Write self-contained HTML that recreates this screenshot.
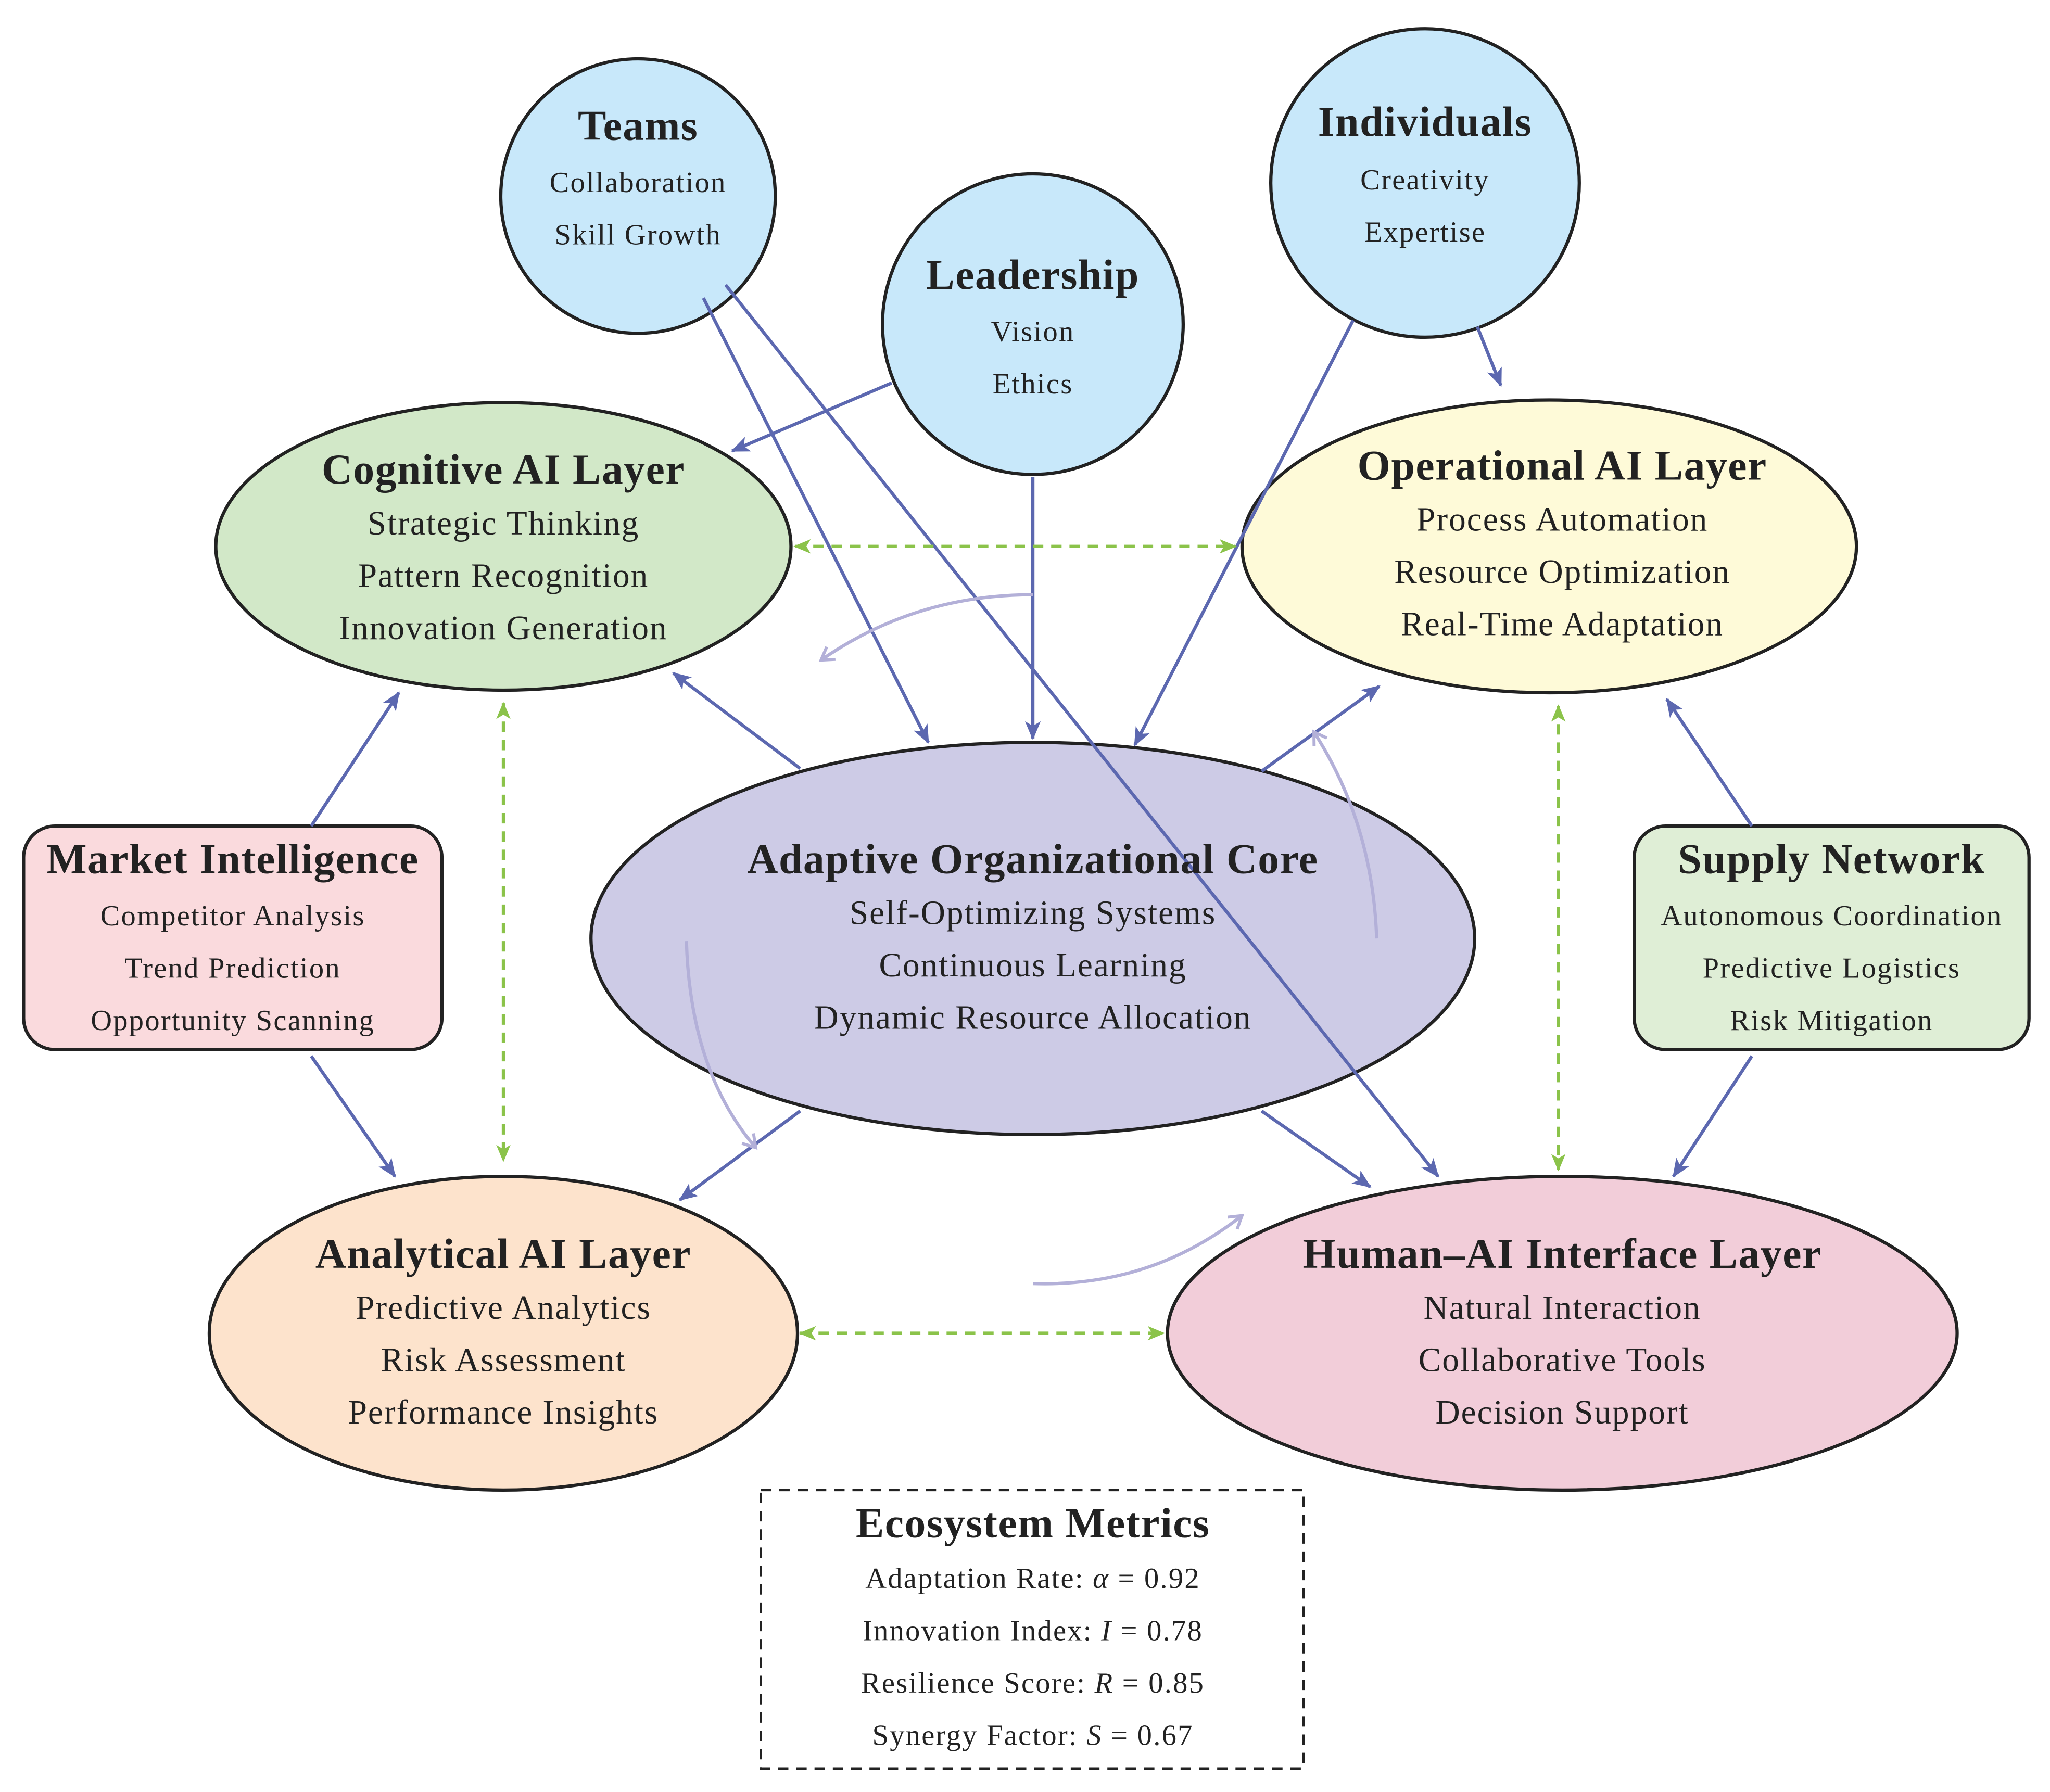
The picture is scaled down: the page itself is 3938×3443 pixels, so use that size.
<!DOCTYPE html>
<html><head><meta charset="utf-8"><style>
html,body{margin:0;padding:0;background:#fff;}
svg{display:block;}
text{font-family:"Liberation Serif",serif;fill:#222;text-anchor:middle;}
.t{font-weight:bold;font-size:32.5px;letter-spacing:0.6px;}
.b{font-size:26px;letter-spacing:0.8px;}
.s{font-size:22.5px;letter-spacing:0.9px;}
</style></head><body>
<svg width="3938" height="3443" viewBox="0 0 1568 1371" xmlns="http://www.w3.org/2000/svg">
<defs>
<marker id="a" viewBox="0 0 12 10" refX="11" refY="5" markerWidth="15" markerHeight="12" markerUnits="userSpaceOnUse" orient="auto-start-reverse">
<path d="M0,0 L12,5 L0,10 L3,5 z" fill="#5c68b0"/></marker>
<marker id="g" viewBox="0 0 12 10" refX="11" refY="5" markerWidth="14" markerHeight="11" markerUnits="userSpaceOnUse" orient="auto-start-reverse">
<path d="M0,0 L12,5 L0,10 L3,5 z" fill="#8bc34a"/></marker>
<marker id="l" viewBox="0 0 12 12" refX="10" refY="6" markerWidth="14" markerHeight="14" markerUnits="userSpaceOnUse" orient="auto">
<path d="M2,1 L10,6 L2,11" fill="none" stroke="#b3b0d8" stroke-width="2"/></marker>
</defs>

<ellipse cx="790" cy="718" rx="338" ry="150" fill="#cdcbe6" stroke="#222" stroke-width="2.5"/>
<ellipse cx="385" cy="418" rx="220" ry="110" fill="#d2e8c8" stroke="#222" stroke-width="2.5"/>
<ellipse cx="1185" cy="418" rx="235" ry="112" fill="#fefad8" stroke="#222" stroke-width="2.5"/>
<ellipse cx="385" cy="1020" rx="225" ry="120" fill="#fde3cc" stroke="#222" stroke-width="2.5"/>
<ellipse cx="1195" cy="1020" rx="302" ry="120" fill="#f2cdd9" stroke="#222" stroke-width="2.5"/>
<circle cx="488" cy="150" r="105" fill="#c8e8fa" stroke="#222" stroke-width="2.5"/>
<circle cx="1090" cy="140" r="118" fill="#c8e8fa" stroke="#222" stroke-width="2.5"/>
<circle cx="790" cy="248" r="115" fill="#c8e8fa" stroke="#222" stroke-width="2.5"/>
<rect x="18" y="632" width="320" height="171" rx="24" fill="#fadadd" stroke="#222" stroke-width="2.5"/>
<rect x="1250" y="632" width="302" height="171" rx="24" fill="#dfeed6" stroke="#222" stroke-width="2.5"/>
<rect x="582" y="1140" width="415" height="213" fill="#fff" stroke="#222" stroke-width="1.8" stroke-dasharray="8,6"/>

<g stroke="#5c68b0" stroke-width="2.5" fill="none" marker-end="url(#a)">
<line x1="682" y1="293" x2="560" y2="345"/>
<line x1="790" y1="365" x2="790" y2="565"/>
<line x1="538" y1="228" x2="710" y2="568"/>
<line x1="555" y1="218" x2="1100" y2="900"/>
<line x1="1035" y1="245" x2="868" y2="570"/>
<line x1="1130" y1="250" x2="1148" y2="295"/>
<line x1="612" y1="588" x2="515" y2="515"/>
<line x1="965" y1="590" x2="1055" y2="525"/>
<line x1="612" y1="850" x2="520" y2="918"/>
<line x1="965" y1="850" x2="1048" y2="908"/>
<line x1="238" y1="632" x2="305" y2="530"/>
<line x1="238" y1="808" x2="302" y2="900"/>
<line x1="1340" y1="632" x2="1275" y2="535"/>
<line x1="1340" y1="808" x2="1280" y2="900"/>
</g>
<g stroke="#8bc34a" stroke-width="2.5" fill="none" stroke-dasharray="8,6" marker-start="url(#g)" marker-end="url(#g)">
<line x1="608" y1="418" x2="945" y2="418"/>
<line x1="385" y1="538" x2="385" y2="888"/>
<line x1="1192" y1="540" x2="1192" y2="895"/>
<line x1="612" y1="1020" x2="890" y2="1020"/>
</g>
<g stroke="#b3b0d8" stroke-width="2.5" fill="none" marker-end="url(#l)">
<path d="M790,455 Q700,455 628,505"/>
<path d="M1053,718 Q1050,630 1005,560"/>
<path d="M525,720 Q528,820 578,878"/>
<path d="M790,982 Q880,985 950,930"/>
</g>

<text class="t" x="488" y="107">Teams</text>
<text class="s" x="488" y="147">Collaboration</text>
<text class="s" x="488" y="187">Skill Growth</text>
<text class="t" x="1090" y="104">Individuals</text>
<text class="s" x="1090" y="145">Creativity</text>
<text class="s" x="1090" y="185">Expertise</text>
<text class="t" x="790" y="221">Leadership</text>
<text class="s" x="790" y="261">Vision</text>
<text class="s" x="790" y="301">Ethics</text>

<text class="t" x="385" y="370">Cognitive AI Layer</text>
<text class="b" x="385" y="409">Strategic Thinking</text>
<text class="b" x="385" y="449">Pattern Recognition</text>
<text class="b" x="385" y="489">Innovation Generation</text>

<text class="t" x="1195" y="367">Operational AI Layer</text>
<text class="b" x="1195" y="406">Process Automation</text>
<text class="b" x="1195" y="446">Resource Optimization</text>
<text class="b" x="1195" y="486">Real-Time Adaptation</text>

<text class="t" x="790" y="668">Adaptive Organizational Core</text>
<text class="b" x="790" y="707">Self-Optimizing Systems</text>
<text class="b" x="790" y="747">Continuous Learning</text>
<text class="b" x="790" y="787">Dynamic Resource Allocation</text>

<text class="t" x="385" y="970">Analytical AI Layer</text>
<text class="b" x="385" y="1009">Predictive Analytics</text>
<text class="b" x="385" y="1049">Risk Assessment</text>
<text class="b" x="385" y="1089">Performance Insights</text>

<text class="t" x="1195" y="970">Human–AI Interface Layer</text>
<text class="b" x="1195" y="1009">Natural Interaction</text>
<text class="b" x="1195" y="1049">Collaborative Tools</text>
<text class="b" x="1195" y="1089">Decision Support</text>

<text class="t" x="178" y="668">Market Intelligence</text>
<text class="s" x="178" y="708">Competitor Analysis</text>
<text class="s" x="178" y="748">Trend Prediction</text>
<text class="s" x="178" y="788">Opportunity Scanning</text>

<text class="t" x="1401" y="668">Supply Network</text>
<text class="s" x="1401" y="708">Autonomous Coordination</text>
<text class="s" x="1401" y="748">Predictive Logistics</text>
<text class="s" x="1401" y="788">Risk Mitigation</text>

<text class="t" x="790" y="1176">Ecosystem Metrics</text>
<text class="s" x="790" y="1215">Adaptation Rate: <tspan font-style="italic">α</tspan> = 0.92</text>
<text class="s" x="790" y="1255">Innovation Index: <tspan font-style="italic">I</tspan> = 0.78</text>
<text class="s" x="790" y="1295">Resilience Score: <tspan font-style="italic">R</tspan> = 0.85</text>
<text class="s" x="790" y="1335">Synergy Factor: <tspan font-style="italic">S</tspan> = 0.67</text>
</svg>
</body></html>
